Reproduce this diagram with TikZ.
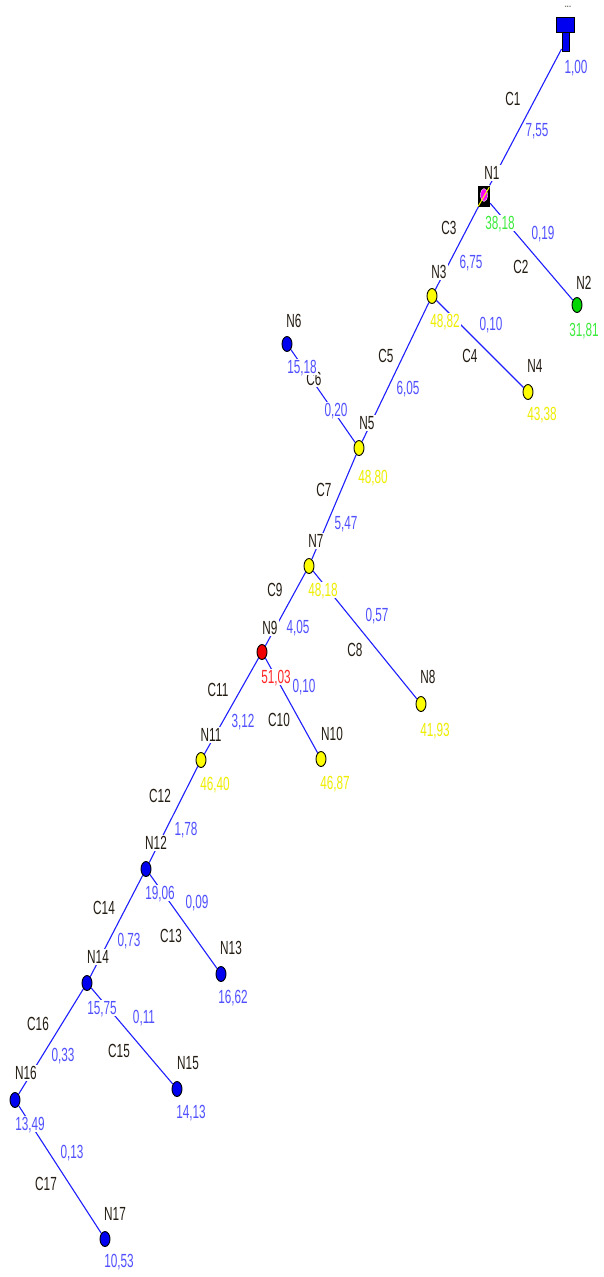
\documentclass[tikz,border=0pt]{standalone}
\usepackage{fontspec}
\newfontfamily\lblfont[FakeStretch=0.62]{Liberation Sans}
\usetikzlibrary{shapes.geometric}
\definecolor{lineblue}{RGB}{30,30,255}
\definecolor{valblue}{RGB}{80,80,255}
\definecolor{darklab}{RGB}{35,28,18}
\definecolor{yeltxt}{RGB}{238,238,0}
\definecolor{grntxt}{RGB}{60,235,60}
\definecolor{redtxt}{RGB}{255,40,40}
\definecolor{nyellow}{RGB}{255,255,0}
\definecolor{ngreen}{RGB}{0,215,0}
\definecolor{nblue}{RGB}{0,0,240}
\definecolor{nred}{RGB}{240,0,0}
\definecolor{nmag}{RGB}{255,0,255}
\pgfdeclarelayer{bglayer}
\pgfdeclarelayer{edgelayer}
\pgfdeclarelayer{lablayer}
\pgfsetlayers{bglayer,edgelayer,lablayer,main}
\begin{document}
\begin{tikzpicture}[x=1pt,y=-1pt,
  lbl/.style={font=\lblfont\fontsize{19}{19}\selectfont, text height=13.6pt, text depth=0pt, inner sep=1pt, fill=white},
  nlab/.style={lbl, text=darklab},
  clab/.style={lbl, text=darklab},
  vlab/.style={lbl, text=valblue},
  ylab/.style={lbl, text=yeltxt},
  glab/.style={lbl, text=grntxt},
  rlab/.style={lbl, text=redtxt},
  jn/.style={ellipse, draw=black, line width=0.9pt, minimum width=10pt, minimum height=15pt, inner sep=0pt},
  yjn/.style={jn, fill=nyellow},
  bjn/.style={jn, fill=nblue},
  gjn/.style={jn, fill=ngreen},
  rjn/.style={jn, fill=nred},
  conn/.style={draw=lineblue, line width=1.1pt},
]
\begin{pgfonlayer}{bglayer}
\fill[white] (0,0) rectangle (604,1277);
\end{pgfonlayer}
\useasboundingbox (0,0) rectangle (604,1277);

% ---- nodes ----
\node[rectangle, draw=black, line width=0.9pt, fill=nblue, minimum width=18pt, minimum height=15pt, inner sep=0pt] (src) at (565,24.5) {};
\node[rectangle, draw=black, line width=0.9pt, fill=nblue, minimum width=7pt, minimum height=19pt, inner sep=0pt] (srcstem) at (565.5,41.5) {};
\node[rectangle, fill=black, minimum width=12pt, minimum height=21pt, inner sep=0pt] (n1) at (484,196) {};
\node[ellipse, fill=nmag, draw=white, line width=0.4pt, minimum width=7pt, minimum height=13pt, inner sep=0pt] (n1dot) at (484,195) {};
\draw[nyellow, line width=1pt] (n1.north east) ++(-1,2) -- ++(-11,19);
\node[gjn] (n2) at (577,305) {};
\node[yjn] (n3) at (432,296) {};
\node[yjn] (n4) at (528,392) {};
\node[yjn] (n5) at (359,448) {};
\node[bjn] (n6) at (287,344) {};
\node[yjn] (n7) at (309,566) {};
\node[yjn] (n8) at (421,704) {};
\node[rjn] (n9) at (262,652) {};
\node[yjn] (n10) at (321,759) {};
\node[yjn] (n11) at (201,760) {};
\node[bjn] (n12) at (146,869) {};
\node[bjn] (n13) at (221,974) {};
\node[bjn] (n14) at (87,983) {};
\node[bjn] (n15) at (177,1089) {};
\node[bjn] (n16) at (15,1100) {};
\node[bjn] (n17) at (105,1239) {};

% ---- connectors ----
\begin{pgfonlayer}{edgelayer}
\draw[conn] (srcstem) -- (n1);
\draw[conn] (n1) -- (n2);
\draw[conn] (n1) -- (n3);
\draw[conn] (n3) -- (n4);
\draw[conn] (n3) -- (n5);
\draw[conn] (n5) -- (n6);
\draw[conn] (n5) -- (n7);
\draw[conn] (n7) -- (n8);
\draw[conn] (n7) -- (n9);
\draw[conn] (n9) -- (n10);
\draw[conn] (n9) -- (n11);
\draw[conn] (n11) -- (n12);
\draw[conn] (n12) -- (n13);
\draw[conn] (n12) -- (n14);
\draw[conn] (n14) -- (n15);
\draw[conn] (n14) -- (n16);
\draw[conn] (n16) -- (n17);
\end{pgfonlayer}

% ---- labels ----
\begin{pgfonlayer}{lablayer}
\node[lbl, fill=none, text=darklab, font=\lblfont\fontsize{12}{12}\selectfont, text height=3pt, anchor=base] (dots) at (568,7) {...};
\node[vlab] (v0) at (576,67) {1,00};
% edge labels
\node[clab] (c1) at (513,99) {C1};
\node[vlab] (e1) at (537,130) {7,55};
\node[clab] (c2) at (521,267) {C2};
\node[vlab] (e2) at (543,233) {0,19};
\node[clab] (c3) at (449,228) {C3};
\node[vlab] (e3) at (471,262) {6,75};
\node[clab] (c4) at (470,356) {C4};
\node[vlab] (e4) at (491,324) {0,10};
\node[clab] (c5) at (386,356) {C5};
\node[vlab] (e5) at (408,388) {6,05};
\node[clab] (c6) at (314,379) {C6};
\node[vlab] (e6) at (336,410) {0,20};
\node[clab] (c7) at (324,490) {C7};
\node[vlab] (e7) at (346,523) {5,47};
\node[clab] (c8) at (355,650) {C8};
\node[vlab] (e8) at (377,615) {0,57};
\node[clab] (c9) at (275,590) {C9};
\node[vlab] (e9) at (298,627) {4,05};
\node[clab] (c10) at (279,720) {C10};
\node[vlab] (e10) at (304,686) {0,10};
\node[clab] (c11) at (218,690) {C11};
\node[vlab] (e11) at (243,721) {3,12};
\node[clab] (c12) at (160,796) {C12};
\node[vlab] (e12) at (186,829) {1,78};
\node[clab] (c13) at (171,936) {C13};
\node[vlab] (e13) at (197,902) {0,09};
\node[clab] (c14) at (104,908) {C14};
\node[vlab] (e14) at (129,940) {0,73};
\node[clab] (c15) at (119,1051) {C15};
\node[vlab] (e15) at (144,1017) {0,11};
\node[clab] (c16) at (38,1024) {C16};
\node[vlab] (e16) at (63,1055) {0,33};
\node[clab] (c17) at (46,1184) {C17};
\node[vlab] (e17) at (72,1152) {0,13};
% node labels
\node[nlab] (l1) at (492,173) {N1};
\node[glab] (w1) at (500,223) {38,18};
\node[nlab] (l2) at (584,283) {N2};
\node[glab] (w2) at (584,330) {31,81};
\node[nlab] (l3) at (439,272) {N3};
\node[ylab] (w3) at (445,321) {48,82};
\node[nlab] (l4) at (535,366) {N4};
\node[ylab] (w4) at (542,414) {43,38};
\node[nlab] (l5) at (367,423) {N5};
\node[ylab] (w5) at (373,477) {48,80};
\node[nlab] (l6) at (294,321) {N6};
\node[vlab] (w6) at (302,367) {15,18};
\node[nlab] (l7) at (316,541) {N7};
\node[ylab] (w7) at (323,590) {48,18};
\node[nlab] (l8) at (428,677) {N8};
\node[ylab] (w8) at (435,730) {41,93};
\node[nlab] (l9) at (270,628) {N9};
\node[rlab] (w9) at (276,677) {51,03};
\node[nlab] (l10) at (332,734) {N10};
\node[ylab] (w10) at (335,783) {46,87};
\node[nlab] (l11) at (211,735) {N11};
\node[ylab] (w11) at (215,784) {46,40};
\node[nlab] (l12) at (156,843) {N12};
\node[vlab] (w12) at (160,893) {19,06};
\node[nlab] (l13) at (231,948) {N13};
\node[vlab] (w13) at (233,997) {16,62};
\node[nlab] (l14) at (98,957) {N14};
\node[vlab] (w14) at (102,1008) {15,75};
\node[nlab] (l15) at (188,1063) {N15};
\node[vlab] (w15) at (191,1112) {14,13};
\node[nlab] (l16) at (26,1073) {N16};
\node[vlab] (w16) at (30,1124) {13,49};
\node[nlab] (l17) at (115,1214) {N17};
\node[vlab] (w17) at (119,1261) {10,53};
\end{pgfonlayer}
\end{tikzpicture}
\end{document}
